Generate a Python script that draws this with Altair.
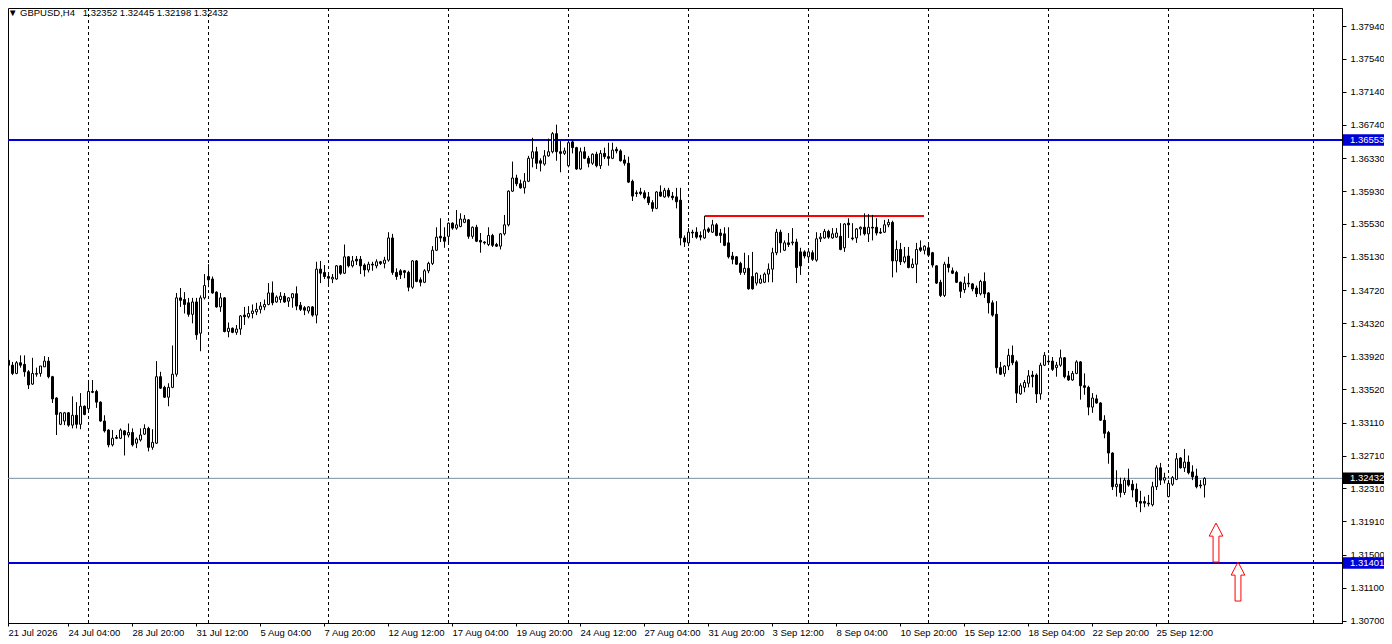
import altair as alt
import pandas as pd

# ---------------- data (GBPUSD H4 candles) ----------------
OPEN = [
    1.3433, 1.3387, 1.3381, 1.3371, 1.3384, 1.3382, 1.3373, 1.3358, 1.3370, 1.3371,
    1.3379, 1.3386, 1.3367, 1.3341, 1.3309, 1.3313, 1.3323, 1.3308, 1.3320, 1.3309,
    1.3331, 1.3328, 1.3349, 1.3349, 1.3336, 1.3313, 1.3302, 1.3284, 1.3293, 1.3292,
    1.3301, 1.3296, 1.3299, 1.3286, 1.3290, 1.3297, 1.3304, 1.3281, 1.3286, 1.3367,
    1.3354, 1.3342, 1.3354, 1.3370, 1.3463, 1.3461, 1.3457, 1.3443, 1.3458, 1.3420,
    1.3463, 1.3489, 1.3486, 1.3470, 1.3452, 1.3463, 1.3422, 1.3426, 1.3421, 1.3425,
    1.3442, 1.3440, 1.3444, 1.3446, 1.3449, 1.3452, 1.3455, 1.3469, 1.3458, 1.3461,
    1.3465, 1.3459, 1.3463, 1.3468, 1.3454, 1.3451, 1.3447, 1.3452, 1.3442, 1.3498,
    1.3494, 1.3489, 1.3486, 1.3486, 1.3502, 1.3493, 1.3513, 1.3502, 1.3510, 1.3510,
    1.3503, 1.3497, 1.3504, 1.3502, 1.3507, 1.3505, 1.3509, 1.3536, 1.3494, 1.3496,
    1.3496, 1.3494, 1.3476, 1.3508, 1.3485, 1.3482, 1.3496, 1.3505, 1.3521, 1.3538,
    1.3537, 1.3538, 1.3554, 1.3548, 1.3550, 1.3555, 1.3558, 1.3538, 1.3549, 1.3533,
    1.3531, 1.3528, 1.3539, 1.3528, 1.3526, 1.3541, 1.3552, 1.3593, 1.3609, 1.3602,
    1.3597, 1.3605, 1.3633, 1.3641, 1.3630, 1.3626, 1.3636, 1.3641, 1.3663, 1.3641,
    1.3639, 1.3624, 1.3653, 1.3646, 1.3620, 1.3641, 1.3633, 1.3627, 1.3638, 1.3624,
    1.3639, 1.3635, 1.3633, 1.3644, 1.3642, 1.3631, 1.3627, 1.3605, 1.3591, 1.3592,
    1.3591, 1.3586, 1.3579, 1.3572, 1.3592, 1.3586, 1.3594, 1.3587, 1.3586, 1.3582,
    1.3536, 1.3530, 1.3543, 1.3543, 1.3539, 1.3536, 1.3547, 1.3543, 1.3552, 1.3542,
    1.3541, 1.3530, 1.3514, 1.3513, 1.3505, 1.3494, 1.3499, 1.3489, 1.3481, 1.3481,
    1.3482, 1.3492, 1.3498, 1.3518, 1.3543, 1.3521, 1.3530, 1.3530, 1.3531, 1.3519,
    1.3519, 1.3513, 1.3518, 1.3509, 1.3535, 1.3536, 1.3544, 1.3536, 1.3537, 1.3538,
    1.3524, 1.3554, 1.3536, 1.3536, 1.3547, 1.3549, 1.3541, 1.3549, 1.3549, 1.3543,
    1.3543, 1.3552, 1.3555, 1.3508, 1.3522, 1.3507, 1.3514, 1.3500, 1.3504, 1.3524,
    1.3521, 1.3524, 1.3518, 1.3502, 1.3482, 1.3466, 1.3504, 1.3496, 1.3494, 1.3482,
    1.3473, 1.3481, 1.3480, 1.3475, 1.3468, 1.3483, 1.3469, 1.3457, 1.3443, 1.3378,
    1.3371, 1.3380, 1.3393, 1.3385, 1.3346, 1.3354, 1.3359, 1.3369, 1.3369, 1.3346,
    1.3381, 1.3386, 1.3386, 1.3378, 1.3381, 1.3390, 1.3368, 1.3363, 1.3371, 1.3385,
    1.3356, 1.3354, 1.3330, 1.3340, 1.3335, 1.3314, 1.3299, 1.3274, 1.3233, 1.3236,
    1.3226, 1.3241, 1.3236, 1.3230, 1.3215, 1.3215, 1.3213, 1.3211, 1.3233, 1.3256,
    1.3241, 1.3221, 1.3236, 1.3242, 1.3268, 1.3256, 1.3263, 1.3251, 1.3246, 1.3235,
    1.32352,
]
HIGH = [
    1.3438, 1.3397, 1.3385, 1.3386, 1.3393, 1.3393, 1.3375, 1.3390, 1.3378, 1.3380,
    1.3392, 1.3391, 1.3368, 1.3342, 1.3324, 1.3324, 1.3324, 1.3343, 1.3336, 1.3347,
    1.3332, 1.3363, 1.3363, 1.3351, 1.3337, 1.3320, 1.3303, 1.3302, 1.3296, 1.3304,
    1.3302, 1.3310, 1.3304, 1.3293, 1.3304, 1.3309, 1.3306, 1.3303, 1.3386, 1.3373,
    1.3356, 1.3359, 1.3405, 1.3469, 1.3475, 1.3470, 1.3463, 1.3463, 1.3463, 1.3466,
    1.3492, 1.3504, 1.3489, 1.3471, 1.3469, 1.3464, 1.3433, 1.3427, 1.3430, 1.3442,
    1.3452, 1.3453, 1.3455, 1.3457, 1.3458, 1.3461, 1.3481, 1.3483, 1.3466, 1.3470,
    1.3469, 1.3464, 1.3469, 1.3477, 1.3458, 1.3453, 1.3453, 1.3453, 1.3507, 1.3508,
    1.3503, 1.3493, 1.3492, 1.3503, 1.3503, 1.3528, 1.3514, 1.3514, 1.3514, 1.3514,
    1.3505, 1.3507, 1.3507, 1.3510, 1.3508, 1.3513, 1.3543, 1.3541, 1.3499, 1.3498,
    1.3497, 1.3496, 1.3509, 1.3509, 1.3488, 1.3498, 1.3507, 1.3526, 1.3549, 1.3560,
    1.3549, 1.3555, 1.3555, 1.3570, 1.3566, 1.3564, 1.3559, 1.3550, 1.3552, 1.3542,
    1.3532, 1.3549, 1.3541, 1.3530, 1.3542, 1.3564, 1.3594, 1.3629, 1.3613, 1.3607,
    1.3615, 1.3636, 1.3658, 1.3647, 1.3633, 1.3643, 1.3657, 1.3665, 1.3674, 1.3654,
    1.3646, 1.3654, 1.3655, 1.3647, 1.3646, 1.3647, 1.3636, 1.3639, 1.3641, 1.3643,
    1.3646, 1.3652, 1.3652, 1.3647, 1.3644, 1.3637, 1.3635, 1.3607, 1.3594, 1.3597,
    1.3594, 1.3592, 1.3582, 1.3593, 1.3600, 1.3597, 1.3597, 1.3592, 1.3597, 1.3597,
    1.3539, 1.3548, 1.3546, 1.3549, 1.3544, 1.3563, 1.3549, 1.3558, 1.3554, 1.3547,
    1.3549, 1.3549, 1.3519, 1.3514, 1.3507, 1.3518, 1.3515, 1.3519, 1.3494, 1.3491,
    1.3494, 1.3505, 1.3524, 1.3547, 1.3546, 1.3533, 1.3542, 1.3548, 1.3535, 1.3524,
    1.3521, 1.3521, 1.3521, 1.3543, 1.3542, 1.3547, 1.3546, 1.3548, 1.3548, 1.3554,
    1.3554, 1.3560, 1.3554, 1.3548, 1.3550, 1.3566, 1.3565, 1.3564, 1.3560, 1.3548,
    1.3558, 1.3559, 1.3557, 1.3533, 1.3530, 1.3525, 1.3525, 1.3511, 1.3530, 1.3533,
    1.3527, 1.3531, 1.3519, 1.3503, 1.3485, 1.3507, 1.3513, 1.3500, 1.3496, 1.3483,
    1.3489, 1.3493, 1.3481, 1.3478, 1.3485, 1.3494, 1.3470, 1.3460, 1.3459, 1.3385,
    1.3381, 1.3401, 1.3405, 1.3387, 1.3359, 1.3363, 1.3375, 1.3374, 1.3371, 1.3384,
    1.3397, 1.3393, 1.3391, 1.3385, 1.3400, 1.3391, 1.3374, 1.3374, 1.3387, 1.3386,
    1.3371, 1.3356, 1.3347, 1.3345, 1.3336, 1.3320, 1.3301, 1.3275, 1.3253, 1.3244,
    1.3244, 1.3255, 1.3241, 1.3237, 1.3228, 1.3221, 1.3223, 1.3239, 1.3259, 1.3262,
    1.3250, 1.3241, 1.3246, 1.3274, 1.3269, 1.3279, 1.3271, 1.3259, 1.3255, 1.3241,
    1.32445,
]
LOW = [
    1.3380, 1.3358, 1.3369, 1.3370, 1.3378, 1.3367, 1.3352, 1.3357, 1.3367, 1.3367,
    1.3379, 1.3365, 1.3335, 1.3296, 1.3308, 1.3308, 1.3306, 1.3304, 1.3304, 1.3303,
    1.3320, 1.3326, 1.3347, 1.3329, 1.3312, 1.3299, 1.3281, 1.3282, 1.3291, 1.3291,
    1.3271, 1.3293, 1.3282, 1.3280, 1.3288, 1.3296, 1.3276, 1.3278, 1.3285, 1.3352,
    1.3341, 1.3331, 1.3353, 1.3367, 1.3452, 1.3444, 1.3440, 1.3432, 1.3412, 1.3398,
    1.3461, 1.3476, 1.3468, 1.3451, 1.3446, 1.3421, 1.3415, 1.3420, 1.3418, 1.3418,
    1.3430, 1.3438, 1.3438, 1.3442, 1.3444, 1.3448, 1.3454, 1.3454, 1.3457, 1.3457,
    1.3457, 1.3452, 1.3451, 1.3448, 1.3447, 1.3442, 1.3444, 1.3440, 1.3432, 1.3481,
    1.3486, 1.3478, 1.3481, 1.3485, 1.3491, 1.3492, 1.3500, 1.3500, 1.3503, 1.3492,
    1.3489, 1.3494, 1.3496, 1.3499, 1.3503, 1.3499, 1.3507, 1.3491, 1.3485, 1.3486,
    1.3487, 1.3471, 1.3474, 1.3482, 1.3477, 1.3481, 1.3493, 1.3503, 1.3520, 1.3531,
    1.3524, 1.3528, 1.3546, 1.3546, 1.3549, 1.3554, 1.3535, 1.3535, 1.3531, 1.3518,
    1.3528, 1.3526, 1.3525, 1.3525, 1.3522, 1.3539, 1.3550, 1.3592, 1.3599, 1.3596,
    1.3590, 1.3604, 1.3622, 1.3620, 1.3617, 1.3624, 1.3635, 1.3639, 1.3630, 1.3616,
    1.3637, 1.3622, 1.3639, 1.3619, 1.3619, 1.3632, 1.3622, 1.3625, 1.3622, 1.3620,
    1.3632, 1.3624, 1.3632, 1.3639, 1.3629, 1.3624, 1.3603, 1.3581, 1.3586, 1.3588,
    1.3583, 1.3576, 1.3568, 1.3571, 1.3586, 1.3585, 1.3585, 1.3582, 1.3572, 1.3527,
    1.3525, 1.3526, 1.3536, 1.3535, 1.3533, 1.3535, 1.3542, 1.3542, 1.3538, 1.3530,
    1.3526, 1.3511, 1.3504, 1.3503, 1.3491, 1.3491, 1.3473, 1.3473, 1.3478, 1.3480,
    1.3481, 1.3482, 1.3482, 1.3515, 1.3518, 1.3520, 1.3525, 1.3527, 1.3481, 1.3491,
    1.3511, 1.3507, 1.3508, 1.3507, 1.3531, 1.3535, 1.3535, 1.3535, 1.3536, 1.3521,
    1.3519, 1.3536, 1.3533, 1.3530, 1.3539, 1.3539, 1.3531, 1.3533, 1.3539, 1.3541,
    1.3542, 1.3549, 1.3488, 1.3494, 1.3503, 1.3505, 1.3499, 1.3499, 1.3481, 1.3519,
    1.3516, 1.3513, 1.3500, 1.3480, 1.3464, 1.3464, 1.3494, 1.3492, 1.3481, 1.3463,
    1.3469, 1.3476, 1.3471, 1.3464, 1.3466, 1.3463, 1.3444, 1.3440, 1.3371, 1.3369,
    1.3367, 1.3375, 1.3381, 1.3335, 1.3345, 1.3348, 1.3354, 1.3354, 1.3335, 1.3339,
    1.3380, 1.3382, 1.3374, 1.3367, 1.3379, 1.3365, 1.3362, 1.3362, 1.3370, 1.3339,
    1.3345, 1.3320, 1.3323, 1.3334, 1.3313, 1.3292, 1.3261, 1.3229, 1.3221, 1.3220,
    1.3223, 1.3233, 1.3220, 1.3208, 1.3202, 1.3208, 1.3209, 1.3209, 1.3229, 1.3235,
    1.3237, 1.3220, 1.3234, 1.3241, 1.3255, 1.3251, 1.3248, 1.3241, 1.3231, 1.3231,
    1.32198,
]
CLOSE = [
    1.3382, 1.3381, 1.3371, 1.3384, 1.3381, 1.3373, 1.3357, 1.3371, 1.3371, 1.3380,
    1.3386, 1.3367, 1.3340, 1.3321, 1.3323, 1.3323, 1.3308, 1.3320, 1.3309, 1.3331,
    1.3321, 1.3349, 1.3348, 1.3336, 1.3313, 1.3301, 1.3284, 1.3292, 1.3292, 1.3302,
    1.3296, 1.3299, 1.3284, 1.3291, 1.3296, 1.3304, 1.3281, 1.3287, 1.3367, 1.3353,
    1.3342, 1.3354, 1.3370, 1.3463, 1.3460, 1.3455, 1.3443, 1.3458, 1.3418, 1.3463,
    1.3478, 1.3485, 1.3469, 1.3452, 1.3463, 1.3422, 1.3426, 1.3421, 1.3425, 1.3441,
    1.3440, 1.3444, 1.3447, 1.3449, 1.3453, 1.3455, 1.3469, 1.3457, 1.3464, 1.3465,
    1.3458, 1.3463, 1.3468, 1.3453, 1.3449, 1.3448, 1.3452, 1.3442, 1.3498, 1.3493,
    1.3489, 1.3487, 1.3488, 1.3502, 1.3493, 1.3513, 1.3502, 1.3508, 1.3508, 1.3502,
    1.3497, 1.3504, 1.3503, 1.3507, 1.3505, 1.3509, 1.3536, 1.3494, 1.3489, 1.3491,
    1.3494, 1.3476, 1.3508, 1.3483, 1.3482, 1.3496, 1.3505, 1.3521, 1.3537, 1.3536,
    1.3532, 1.3554, 1.3548, 1.3552, 1.3559, 1.3559, 1.3538, 1.3549, 1.3532, 1.3531,
    1.3530, 1.3539, 1.3527, 1.3526, 1.3541, 1.3552, 1.3593, 1.3609, 1.3602, 1.3597,
    1.3605, 1.3633, 1.3641, 1.3627, 1.3627, 1.3636, 1.3641, 1.3663, 1.3641, 1.3639,
    1.3642, 1.3652, 1.3646, 1.3620, 1.3641, 1.3633, 1.3627, 1.3638, 1.3624, 1.3639,
    1.3635, 1.3633, 1.3643, 1.3642, 1.3630, 1.3627, 1.3604, 1.3587, 1.3590, 1.3590,
    1.3585, 1.3579, 1.3572, 1.3592, 1.3587, 1.3594, 1.3587, 1.3585, 1.3580, 1.3536,
    1.3531, 1.3543, 1.3542, 1.3537, 1.3537, 1.3546, 1.3544, 1.3552, 1.3539, 1.3539,
    1.3527, 1.3513, 1.3510, 1.3504, 1.3494, 1.3499, 1.3474, 1.3474, 1.3493, 1.3486,
    1.3492, 1.3498, 1.3518, 1.3543, 1.3530, 1.3530, 1.3528, 1.3531, 1.3500, 1.3502,
    1.3514, 1.3519, 1.3510, 1.3535, 1.3537, 1.3544, 1.3537, 1.3541, 1.3542, 1.3522,
    1.3553, 1.3552, 1.3535, 1.3547, 1.3549, 1.3541, 1.3549, 1.3548, 1.3542, 1.3542,
    1.3552, 1.3555, 1.3508, 1.3522, 1.3507, 1.3513, 1.3500, 1.3504, 1.3522, 1.3521,
    1.3526, 1.3515, 1.3503, 1.3481, 1.3466, 1.3504, 1.3500, 1.3493, 1.3482, 1.3471,
    1.3481, 1.3480, 1.3474, 1.3468, 1.3483, 1.3468, 1.3457, 1.3442, 1.3378, 1.3370,
    1.3380, 1.3393, 1.3384, 1.3347, 1.3356, 1.3360, 1.3368, 1.3367, 1.3346, 1.3381,
    1.3393, 1.3385, 1.3376, 1.3381, 1.3390, 1.3367, 1.3363, 1.3371, 1.3385, 1.3356,
    1.3354, 1.3330, 1.3341, 1.3335, 1.3314, 1.3298, 1.3274, 1.3233, 1.3236, 1.3226,
    1.3241, 1.3235, 1.3229, 1.3215, 1.3213, 1.3213, 1.3212, 1.3233, 1.3256, 1.3241,
    1.3244, 1.3237, 1.3244, 1.3267, 1.3256, 1.3263, 1.3250, 1.3245, 1.3233, 1.3234,
    1.32432,
]

X_LABEL_POS = [1, 16, 32, 48, 64, 80, 96, 112, 128, 144, 160, 176, 192, 208, 224,
               240, 256, 272, 288]
X_LABELS = ["21 Jul 2026", "24 Jul 04:00", "28 Jul 20:00", "31 Jul 12:00",
            "5 Aug 04:00", "7 Aug 20:00", "12 Aug 12:00", "17 Aug 04:00",
            "19 Aug 20:00", "24 Aug 12:00", "27 Aug 04:00", "31 Aug 20:00",
            "3 Sep 12:00", "8 Sep 04:00", "10 Sep 20:00", "15 Sep 12:00",
            "18 Sep 04:00", "22 Sep 20:00", "25 Sep 12:00"]
Y_TICKS = [1.37940, 1.37540, 1.37140, 1.36740, 1.36330, 1.35930, 1.35530, 1.35130,
           1.34720, 1.34320, 1.33920, 1.33520, 1.33110, 1.32710, 1.32310, 1.31910,
           1.31500, 1.31100, 1.30700]
GRID_POS = [21, 51, 81, 111, 141, 171, 201, 231, 261, 291, 327.25]
LEVELS = [1.36553, 1.31401]
BID = 1.32432
RES_START = [175.25]
RES_END = [230]
RES_PRICE = [1.35627]
ARROW_X = [303, 308.5]
ARROW_Y = [1.31650, 1.31175]
BOX_PRICE = [1.36553, 1.31401, 1.32432]
BOX_TEXT = ["1.36553", "1.31401", "1.32432"]
BOX_COLOR = ["#0000d8", "#0000d8", "#000000"]
TITLE = "\u25bc GBPUSD,H4\u00a0\u00a0 1.32352 1.32445 1.32198 1.32432"

# ---------------- chart ----------------
FONT = "Liberation Sans"
FS = 9.5
W, H = 1334, 615

df = pd.DataFrame({"i": list(range(len(OPEN))), "open": OPEN, "high": HIGH,
                   "low": LOW, "close": CLOSE})
df["dir"] = ["up" if c >= o else "down" for o, c in zip(OPEN, CLOSE)]

label_expr = ("[" + ",".join("'%s'" % t for t in X_LABELS) + "][indexof(["
              + ",".join(str(v) for v in X_LABEL_POS) + "], datum.value)]")

x_scale = alt.Scale(domain=[1, 334.5], nice=False, zero=False, padding=0)
y_scale = alt.Scale(domain=[1.306699, 1.381608], nice=False, zero=False, padding=0)
x_axis = alt.Axis(values=X_LABEL_POS, labelExpr=label_expr, labelAlign="left",
                  labelBaseline="top", labelPadding=1, tickSize=3,
                  tickColor="black", domainColor="black", labelColor="black",
                  labelFont=FONT, labelFontSize=FS, grid=False, title=None,
                  labelOverlap=False, labelFlush=False)
y_axis = alt.Axis(orient="right", values=Y_TICKS, format=".5f", tickSize=4,
                  labelPadding=4, tickColor="black", domainColor="black",
                  labelColor="black", labelFont=FONT, labelFontSize=FS,
                  grid=False, title=None, labelOverlap=False, labelFlush=False)


def X(field):
    return alt.X(field, type="quantitative", scale=x_scale, axis=x_axis)


def Y(field):
    return alt.Y(field, type="quantitative", scale=y_scale, axis=y_axis)


grid = alt.Chart(pd.DataFrame({"g": GRID_POS})).mark_rule(
    color="black", strokeWidth=1, strokeDash=[3, 3], xOffset=0.5
).encode(x=X("g"))

levels = alt.Chart(pd.DataFrame({"p": LEVELS})).mark_rule(
    color="#0000d8", strokeWidth=2
).encode(y=Y("p"))

bid = alt.Chart(pd.DataFrame({"p": [BID]})).mark_rule(
    color="#7a8ea3", strokeWidth=1
).encode(y=Y("p"))

res = alt.Chart(pd.DataFrame({"a": RES_START, "b": RES_END, "p": RES_PRICE})).mark_rule(
    color="#ff0000", strokeWidth=2
).encode(x=X("a"), x2="b", y=Y("p"))

wicks = alt.Chart(df).mark_rule(color="black", strokeWidth=1, xOffset=0.5, clip=True).encode(
    x=X("i"), y=Y("low"), y2="high"
)

bodies = alt.Chart(df).mark_bar(
    size=2, xOffset=0.5, stroke="black", strokeWidth=1, clip=True, orient="vertical"
).encode(
    x=X("i"), y=Y("open"), y2="close",
    fill=alt.Fill("dir:N", scale=alt.Scale(domain=["up", "down"], range=["white", "black"]),
                  legend=None),
)

arrow_path = ("M0,-1 L0.35,-0.33 L0.15,-0.33 L0.15,1 L-0.15,1 L-0.15,-0.33 "
              "L-0.35,-0.33 Z")
arrows = alt.Chart(pd.DataFrame({"x": ARROW_X, "y": ARROW_Y})).mark_point(
    shape=arrow_path, size=1521, filled=False, stroke="#ff0000", strokeWidth=1, opacity=1
).encode(x=X("x"), y=Y("y"))

box_df = pd.DataFrame({"p": BOX_PRICE, "t": BOX_TEXT, "c": BOX_COLOR})
boxes = alt.Chart(box_df).mark_point(
    shape="M-1,-0.25 L1,-0.25 L1,0.25 L-1,0.25 Z", size=2116, filled=True, opacity=1,
    strokeWidth=0
).encode(x=alt.value(W + 24), y=Y("p"), fill=alt.Fill("c:N", scale=None))

box_text = alt.Chart(box_df).mark_text(
    align="left", baseline="middle", color="white", font=FONT, fontSize=FS
).encode(x=alt.value(W + 8), y=Y("p"), text="t:N")

title = alt.Chart(pd.DataFrame({"t": [TITLE]})).mark_text(
    align="left", baseline="top", color="black", font=FONT, fontSize=FS
).encode(x=alt.value(0), y=alt.value(0), text="t:N")

chart = alt.layer(
    grid, levels, bid, res, wicks, bodies, arrows, boxes, box_text, title
).properties(
    width=W, height=H,
    autosize=alt.AutoSizeParams(type="none"),
    padding={"left": 0, "top": 0, "right": 42, "bottom": 20},
    background="white",
).configure_view(stroke="black", strokeWidth=1)

chart.save("out.html", embed_options={"renderer": "svg", "actions": False})
